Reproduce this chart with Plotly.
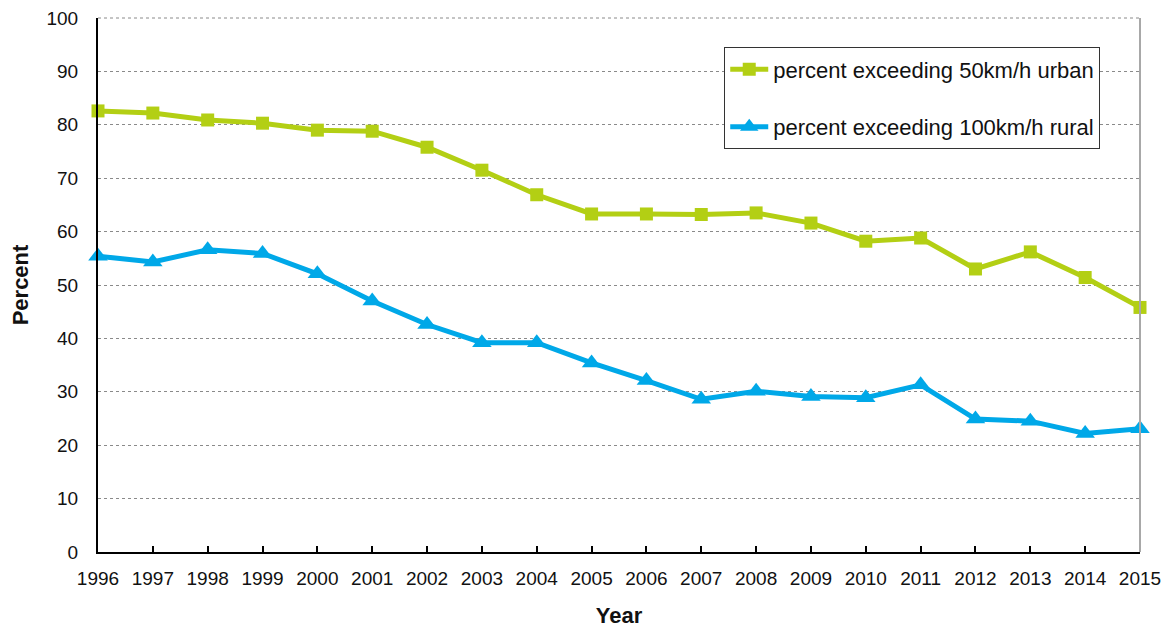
import plotly.graph_objects as go

years = list(range(1996, 2016))
urban_50 = [82.6, 82.2, 80.9, 80.3, 79.0, 78.8, 75.8, 71.5, 66.9, 63.3,
            63.3, 63.2, 63.5, 61.6, 58.2, 58.8, 53.0, 56.2, 51.4, 45.8]
rural_100 = [55.4, 54.3, 56.6, 55.9, 52.1, 47.0, 42.6, 39.2, 39.2, 35.4,
             32.1, 28.6, 30.1, 29.1, 28.9, 31.3, 24.9, 24.5, 22.2, 23.1]
series_names = ["percent exceeding 50km/h urban", "percent exceeding 100km/h rural"]
y_ticks = list(range(0, 101, 10))

GREEN = "#B3CF14"
BLUE = "#00A8E8"
FONT = "Liberation Sans, Arial, sans-serif"

fig = go.Figure()
fig.add_trace(go.Scatter(
    x=years, y=urban_50, name=series_names[0], mode="lines+markers",
    line=dict(color=GREEN, width=5),
    marker=dict(symbol="square", size=13, color=GREEN),
    cliponaxis=False, legendgroup="a",
))
fig.add_trace(go.Scatter(
    x=years, y=rural_100, name=series_names[1], mode="lines+markers",
    line=dict(color=BLUE, width=5),
    marker=dict(symbol="triangle-up", size=17, color=BLUE),
    cliponaxis=False, legendgroup="b",
))

fig.update_layout(
    width=1171, height=631,
    margin=dict(l=90, r=39, t=10, b=87),
    paper_bgcolor="white", plot_bgcolor="white",
    font=dict(family=FONT, size=19, color="#111111"),
    showlegend=True,
    legend=dict(
        x=0.601, y=0.945, xanchor="left", yanchor="top",
        bgcolor="white", bordercolor="#333333", borderwidth=1,
        font=dict(family=FONT, size=22, color="#111111"),
        tracegroupgap=26, traceorder="grouped",
        itemwidth=38,
    ),
    xaxis=dict(
        range=[1996, 2015], tickmode="array", tickvals=years,
        ticktext=[str(y) for y in years],
        showgrid=False, zeroline=False, automargin=False,
        showline=True, linecolor="black", linewidth=2,
        ticks="inside", ticklen=6, tickwidth=1.5, tickcolor="black",
        ticklabelstandoff=8, ticklabeloverflow="allow",
        tickfont=dict(family=FONT, size=19, color="#111111"),
        title=dict(text="<b>Year</b>", font=dict(family=FONT, size=22, color="#111111"), standoff=20),
    ),
    yaxis=dict(
        range=[0, 100], tickmode="array", tickvals=y_ticks,
        showgrid=True, gridcolor="#8a8a8a", gridwidth=1, griddash="dot",
        zeroline=False, automargin=False,
        showline=True, linecolor="black", linewidth=2,
        ticks="", ticklabelstandoff=14, ticklabeloverflow="allow",
        tickfont=dict(family=FONT, size=19, color="#111111"),
        title=dict(text="<b>Percent</b>", font=dict(family=FONT, size=22, color="#111111"), standoff=20),
    ),
    shapes=[
        dict(type="line", xref="paper", yref="paper", x0=0, x1=1, y0=1, y1=1,
             line=dict(color="#8a8a8a", width=1, dash="dot"), layer="below"),
        dict(type="line", xref="paper", yref="paper", x0=1, x1=1, y0=0, y1=1,
             line=dict(color="#a8a8a8", width=2)),
    ],
)

fig.write_html("out.html", config={"displayModeBar": False})
